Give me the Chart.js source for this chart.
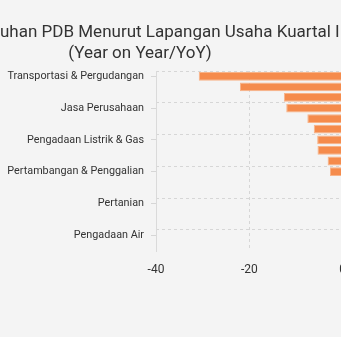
<!DOCTYPE html>
<html><head><meta charset="utf-8">
<script src="https://cdn.jsdelivr.net/npm/chart.js@4"></script>
<style>
html,body{margin:0;padding:0;background:#f4f4f4;overflow:hidden;width:341px;height:337px;position:relative}
#wrap{position:absolute;left:0;top:0;width:450px;height:337px}
.t{position:absolute;white-space:nowrap;font-family:Roboto;font-size:17px;color:#333;line-height:20px}
#t1{left:0;top:21px}
#t1 .cut{position:absolute;right:100%;top:0}
#t2{left:140px;top:42px;transform:translateX(-50%)}
</style></head>
<body>
<div id="wrap"><canvas id="c"></canvas></div>
<div class="t" id="t1"><span class="cut">Pertumb</span>uhan PDB Menurut Lapangan Usaha Kuartal II 2020</div>
<div class="t" id="t2">(Year on Year/YoY)</div>
<script>
const categories = ["Transportasi & Pergudangan","Akomodasi & Makan Minum","Jasa Lainnya","Jasa Perusahaan","Perdagangan","Industri Pengolahan","Pengadaan Listrik & Gas","Konstruksi","Administrasi Pemerintahan","Pertambangan & Penggalian","Jasa Keuangan","Jasa Pendidikan","Pertanian","Real Estate","Jasa Kesehatan","Pengadaan Air","Informasi & Komunikasi"];
const growthValues = [-30.84,-22.02,-12.60,-12.09,-7.57,-6.19,-5.46,-5.39,-3.22,-2.72,1.03,1.21,2.19,2.30,3.71,4.56,10.88];
const xTickValues = [-40,-20,0,20];

const gridGray = '#d6d6d6';
const every3 = c => (c.index % 3 === 0 ? gridGray : 'rgba(0,0,0,0)');

new Chart(document.getElementById('c'), {
  type: 'bar',
  data: {
    labels: categories,
    datasets: [{
      data: growthValues,
      backgroundColor: '#f58b4c',
      borderColor: '#f8b388',
      borderWidth: 1,
      barPercentage: 0.9,
      categoryPercentage: 0.92
    }]
  },
  options: {
    indexAxis: 'y',
    responsive: true,
    maintainAspectRatio: false,
    animation: false,
    layout: { padding: { top: 71, bottom: 49, left: 0, right: 14 } },
    plugins: { legend: { display: false }, title: { display: false }, tooltip: { enabled: false } },
    scales: {
      x: {
        type: 'linear',
        min: xTickValues[0],
        max: xTickValues[xTickValues.length - 1],
        afterBuildTicks: s => { s.ticks = xTickValues.map(v => ({ value: v })); },
        afterFit: s => { s.paddingLeft = 0; s.paddingRight = 0; },
        ticks: { padding: 11.3, color: '#333', font: { family: 'Roboto', size: 12 } },
        grid: { color: gridGray, drawTicks: false },
        border: { display: false, dash: [3, 3] }
      },
      y: {
        type: 'category',
        position: 'left',
        weight: 0,
        offset: true,
        ticks: { display: false },
        grid: { offset: false, drawOnChartArea: false, drawTicks: true, tickLength: 5, color: every3 },
        border: { display: true, color: '#dadada' }
      },
      yl: {
        type: 'category',
        position: 'left',
        weight: 1,
        offset: true,
        ticks: {
          autoSkip: false, padding: 7, color: '#333',
          font: { family: 'Roboto', size: 10.8 },
          callback: (v, i) => (i % 3 === 0 ? categories[i] : '')
        },
        grid: { offset: true, drawTicks: false, color: every3 },
        border: { display: false, dash: [3, 3] },
        afterFit: s => { s.width = 151; }
      }
    }
  }
});
</script>
</body></html>
